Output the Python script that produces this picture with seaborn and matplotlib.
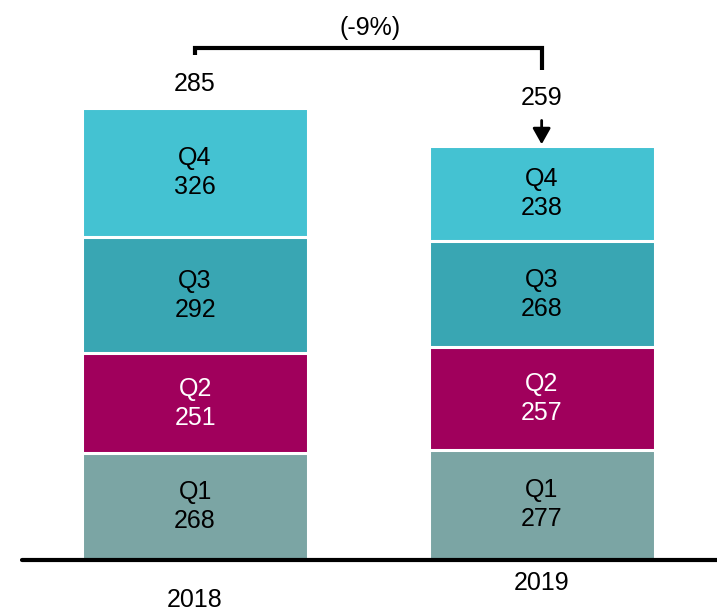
import matplotlib
matplotlib.use("Agg")
import matplotlib.pyplot as plt
import numpy as np
import pandas as pd
import seaborn as sns

years = ["2018", "2019"]
quarters = ["Q1", "Q2", "Q3", "Q4"]
q1 = [268, 277]
q2 = [251, 257]
q3 = [292, 268]
q4 = [326, 238]
avg_labels = ["285", "259"]
change_label = "(-9%)"

COLORS = {"Q1": "#7ba5a4", "Q2": "#a0005c", "Q3": "#39a6b3", "Q4": "#44c2d2"}
TEXT_COLORS = {"Q1": "black", "Q2": "white", "Q3": "black", "Q4": "black"}
FS = 18

sns.set_theme(style="white")
plt.rcParams["font.family"] = ["Liberation Sans", "DejaVu Sans"]
plt.rcParams["text.color"] = "black"

df = pd.DataFrame({"year": years, "Q1": q1, "Q2": q2, "Q3": q3, "Q4": q4})
cum = df[quarters].cumsum(axis=1)

fig = plt.figure(figsize=(7.17, 6.11), dpi=100)
ax = fig.add_axes([0, 0, 1, 1])

# stacked bars: draw cumulative totals from the top segment down
for q in reversed(quarters):
    sns.barplot(x=df["year"], y=cum[q], color=COLORS[q], width=0.652,
                edgecolor="white", linewidth=2.2, ax=ax, saturation=1)

for i in range(len(years)):
    for q in quarters:
        top = cum.loc[i, q]
        mid = top - df.loc[i, q] / 2
        ax.text(i, mid, f"{q}\n{df.loc[i, q]}", ha="center", va="center",
                fontsize=FS, color=TEXT_COLORS[q], linespacing=1.25)

ax.set_xlim(-0.563, 1.506)
ax.set_ylim(-129, 1408)
ax.set_xticks([])
ax.set_yticks([])
ax.set_xlabel("")
ax.set_ylabel("")
sns.despine(ax=ax, left=True, bottom=True)

# baseline
ax.axhline(0, xmin=22 / 717, xmax=1, color="black", lw=3)

# year labels
ax.text(0, -101, years[0], ha="center", va="center", fontsize=FS)
ax.text(1, -58, years[1], ha="center", va="center", fontsize=FS)

# average labels
ax.text(0, 1196, avg_labels[0], ha="center", va="center", fontsize=FS)
ax.text(1, 1161, avg_labels[1], ha="center", va="center", fontsize=FS)

# bracket with change
ax.plot([0, 0, 1, 1], [1270, 1288, 1288, 1232], color="black", lw=3,
        solid_joinstyle="miter", solid_capstyle="butt")
ax.text(0.505, 1337, change_label, ha="center", va="center", fontsize=FS)

# arrow to 2019 bar
ax.annotate("", xy=(1, 1045), xytext=(1, 1105),
            arrowprops=dict(arrowstyle="-|>,head_width=0.45,head_length=0.8",
                            color="black", lw=2, shrinkA=0, shrinkB=0))

fig.savefig("out.png", dpi=100)
